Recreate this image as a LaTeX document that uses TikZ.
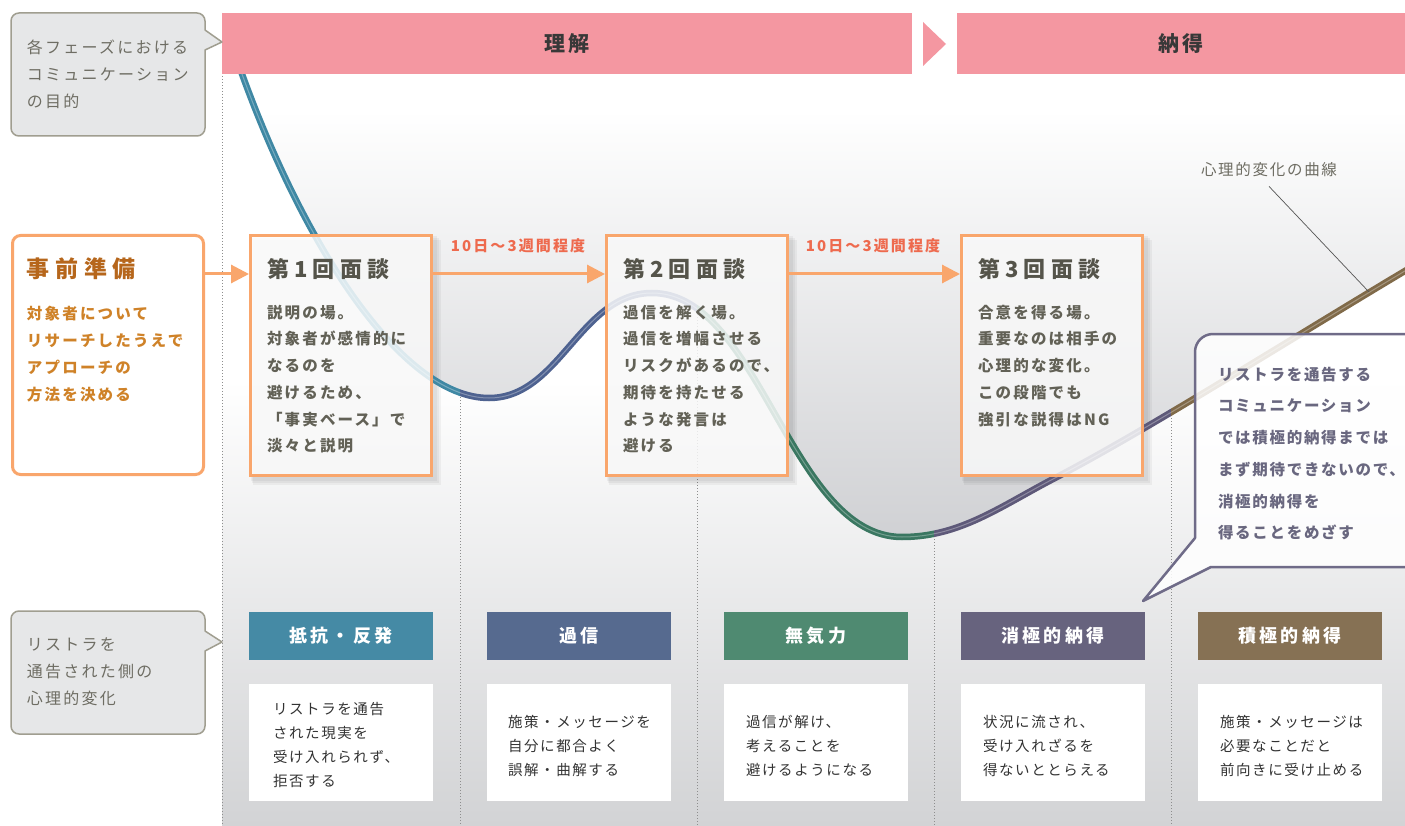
\documentclass[tikz,border=0pt]{standalone}
\usepackage{fontspec}
\setmainfont{Noto Sans CJK JP}
\newfontfamily\jpA[LetterSpace=14]{Noto Sans CJK JP}
\newfontfamily\jpB[LetterSpace=24]{Noto Sans CJK JP}
\newfontfamily\jpC[LetterSpace=11]{Noto Sans CJK JP}
\newfontfamily\jpD[LetterSpace=18]{Noto Sans CJK JP}
\usetikzlibrary{arrows.meta}
\newcommand{\fsz}[2]{\fontsize{#1}{#2}\selectfont}
\newcommand{\curvepath}{(237,60) .. controls (300,240) and (400,398) .. (489,398) .. controls (560,398) and (580,293) .. (652,293) .. controls (760,293) and (790,537) .. (902,537) .. controls (960,537) and (1000,506.6) .. (1055,478) .. controls (1150,428.6) and (1300,333) .. (1420,262)}
\definecolor{pinkbar}{HTML}{F497A1}
\definecolor{hdrtext}{HTML}{383838}
\definecolor{calloutfill}{HTML}{E6E7E8}
\definecolor{calloutdraw}{HTML}{A09E90}
\definecolor{callouttext}{HTML}{6E6D63}
\definecolor{peach}{HTML}{F9A66C}
\definecolor{prepTitle}{HTML}{B6661B}
\definecolor{prepText}{HTML}{CF8228}
\definecolor{boxTitle}{HTML}{55544A}
\definecolor{boxText}{HTML}{626156}
\definecolor{lblcol}{HTML}{EE6A4E}
\definecolor{cA}{HTML}{3F88A4}
\definecolor{cB}{HTML}{4E6290}
\definecolor{cC}{HTML}{3A7761}
\definecolor{cD}{HTML}{5E5979}
\definecolor{cE}{HTML}{806A49}
\definecolor{catA}{HTML}{458AA5}
\definecolor{catB}{HTML}{566A8F}
\definecolor{catC}{HTML}{4F8A71}
\definecolor{catD}{HTML}{67637E}
\definecolor{catE}{HTML}{867154}
\definecolor{bubbledraw}{HTML}{6F6B88}
\definecolor{bubbletext}{HTML}{69677F}
\definecolor{desctext}{HTML}{333333}
\definecolor{dotcol}{HTML}{8E8E8E}
\definecolor{upGray}{HTML}{CFD0D3}
\definecolor{bgC}{HTML}{D2D3D5}
\definecolor{leadcol}{HTML}{555555}
\begin{document}
\begin{tikzpicture}[x=1pt,y=-1pt,
  txt/.style={inner sep=0pt, outer sep=0pt, anchor=north west, align=left},
  hdr/.style={fill=pinkbar, inner sep=0pt, minimum height=61pt, text=hdrtext, font=\jpC\bfseries\fsz{21}{24}},
  callout/.style={draw=calloutdraw, fill=calloutfill, line width=1.5pt, line join=round},
  calltext/.style={txt, font=\jpA\fsz{16}{27}, text=callouttext},
  prepbox/.style={draw=peach, fill=white, line width=3pt, rounded corners=8pt, minimum width=191pt, minimum height=239pt, inner sep=0pt},
  mtg/.style={draw=peach, fill=white, fill opacity=0.82, line width=3pt, minimum width=181pt, minimum height=240pt, inner sep=0pt},
  mtgtitle/.style={txt, font=\jpB\bfseries\fsz{22}{24}, text=boxTitle},
  mtgbody/.style={txt, font=\jpA\bfseries\fsz{15.5}{26.7}, text=boxText},
  arr/.style={draw=peach, line width=3pt, -{Triangle[length=18pt,width=18pt]}},
  lbl/.style={inner sep=0pt, font=\jpA\bfseries\fsz{15}{18}, text=lblcol},
  dotline/.style={draw=dotcol, line width=1pt, dash pattern=on 1pt off 2pt},
  crv/.style={line width=6.5pt, line cap=butt},
  hilite/.style={line width=1pt, draw=white, opacity=0.3},
  catbox/.style={minimum width=184pt, minimum height=48pt, inner sep=0pt, text=white, font=\jpD\bfseries\fsz{18}{20}},
  descbox/.style={fill=white, minimum width=184pt, minimum height=117pt, inner sep=0pt},
  desctxt/.style={txt, font=\jpC\fsz{14.5}{24}, text=desctext},
  bubble/.style={draw=bubbledraw, fill=white, fill opacity=0.85, line width=2.5pt, line join=round},
  shadowfill/.style={fill=black, opacity=0.045}
]
\useasboundingbox (0,0) rectangle (1405,826);
\fill[white] (0,0) rectangle (1405,826);
% background: light gradient below the curve, grey gradient above it
\shade[top color=white, bottom color=bgC] (222,380) rectangle (1405,826);
\begin{scope}
  \clip \curvepath -- (1420,60) -- cycle;
  \shade[top color=white, bottom color=upGray] (222,110) rectangle (1405,545);
\end{scope}

% dotted phase lines
\draw[dotline] (222,13) -- (222,826);
\draw[dotline] (460,394) -- (460,826);
\draw[dotline] (697,308) -- (697,826);
\draw[dotline] (934,533) -- (934,826);
\draw[dotline] (1171,412) -- (1171,826);

% shadows of meeting boxes
\foreach \bx in {249,605,960}{
  \fill[shadowfill] (\bx+2,236) rectangle (\bx+188,481);
  \fill[shadowfill] (\bx+3,238) rectangle (\bx+190,483);
  \fill[shadowfill] (\bx+4,240) rectangle (\bx+192,485);
}

% curve, coloured by phase
\foreach \xa/\xb/\col in {200/460/cA, 460/697/cB, 697/934/cC, 934/1171/cD, 1171/1420/cE}{
  \begin{scope}
    \clip (\xa,0) rectangle (\xb,826);
    \draw[crv, draw=\col] \curvepath;
    \draw[hilite] \curvepath;
  \end{scope}
}

% header
\node[hdr, minimum width=690pt] (h1) at (567,43.5) {理解};
\fill[pinkbar] (923,22) -- (946,44) -- (923,66) -- cycle;
\node[hdr, minimum width=448pt] (h2) at (1181,43.5) {納得};

% left callouts
\draw[callout] (11,21) arc (180:270:8) -- (197,13) arc (270:360:8) -- (205,30) -- (222,42) -- (205,50) -- (205,128) arc (0:90:8) -- (19,136) arc (90:180:8) -- cycle;
\node[calltext] (c1t) at (27,40) {各フェーズにおける\\コミュニケーション\\の目的};
\draw[callout] (11,619) arc (180:270:8) -- (197,611) arc (270:360:8) -- (205,631) -- (222,642) -- (205,651) -- (205,726) arc (0:90:8) -- (19,734) arc (90:180:8) -- cycle;
\node[calltext] (c2t) at (27,638) {リストラを\\通告された側の\\心理的変化};

% preparation box
\node[prepbox] (prep) at (108,355) {};
\node[txt, font=\jpB\bfseries\fsz{23}{26}, text=prepTitle] (prept) at (27,258) {事前準備};
\node[txt, font=\jpA\bfseries\fsz{15.5}{27}, text=prepText] (preps) at (27,306) {対象者について\\リサーチしたうえで\\アプローチの\\方法を決める};

% meeting boxes
\node[mtg] (m1) at (341,355.5) {};
\node[mtg] (m2) at (697,355.5) {};
\node[mtg] (m3) at (1052,355.5) {};
\node[mtgtitle] (m1t) at (267,258) {第1回面談};
\node[mtgtitle] (m2t) at (623,258) {第2回面談};
\node[mtgtitle] (m3t) at (978,258) {第3回面談};
\node[mtgbody] (m1b) at (267,305) {説明の場。\\対象者が感情的に\\なるのを\\避けるため、\\「事実ベース」で\\淡々と説明};
\node[mtgbody] (m2b) at (623,305) {過信を解く場。\\過信を増幅させる\\リスクがあるので、\\期待を持たせる\\ような発言は\\避ける};
\node[mtgbody] (m3b) at (978,305) {合意を得る場。\\重要なのは相手の\\心理的な変化。\\この段階でも\\強引な説得はNG};

% arrows
\coordinate (ay) at (0,274);
\draw[arr] (prep.east |- ay) -- (m1.west |- ay);
\draw[arr] (m1.east |- ay) -- (m2.west |- ay);
\draw[arr] (m2.east |- ay) -- (m3.west |- ay);
\node[lbl] (l1) at (518,246) {10日〜3週間程度};
\node[lbl] (l2) at (873,246) {10日〜3週間程度};

% curve label
\node[inner sep=0pt, font=\jpC\fsz{15.5}{18}, text=callouttext] (cl) at (1269,170) {心理的変化の曲線};
\coordinate (lead) at (1369,292);
\draw[leadcol, line width=0.7pt] ([yshift=-9pt]cl.south) -- (lead);

% speech bubble
\draw[bubble] (1143,601) -- (1195,538) -- (1195,352) arc (180:270:18) -- (1425,334) -- (1425,567) -- (1211,567) -- cycle;
\node[txt, font=\jpC\bfseries\fsz{15.5}{31.7}, text=bubbletext] (bt) at (1218,367) {リストラを通告する\\コミュニケーション\\では積極的納得までは\\まず期待できないので、\\消極的納得を\\得ることをめざす};

% categories
\node[catbox, fill=catA] (k1) at (341,635.5) {抵抗・反発};
\node[catbox, fill=catB] (k2) at (579,635.5) {過信};
\node[catbox, fill=catC] (k3) at (816,635.5) {無気力};
\node[catbox, fill=catD] (k4) at (1053,635.5) {消極的納得};
\node[catbox, fill=catE] (k5) at (1290,635.5) {積極的納得};

% descriptions
\node[descbox] (d1) at (341,742.5) {};
\node[descbox] (d2) at (579,742.5) {};
\node[descbox] (d3) at (816,742.5) {};
\node[descbox] (d4) at (1053,742.5) {};
\node[descbox] (d5) at (1290,742.5) {};
\node[desctxt] (d1t) at (273,702) {リストラを通告\\された現実を\\受け入れられず、\\拒否する};
\node[desctxt] (d2t) at (508,715) {施策・メッセージを\\自分に都合よく\\誤解・曲解する};
\node[desctxt] (d3t) at (746,715) {過信が解け、\\考えることを\\避けるようになる};
\node[desctxt] (d4t) at (983,715) {状況に流され、\\受け入れざるを\\得ないととらえる};
\node[desctxt] (d5t) at (1220,715) {施策・メッセージは\\必要なことだと\\前向きに受け止める};
\end{tikzpicture}
\end{document}
